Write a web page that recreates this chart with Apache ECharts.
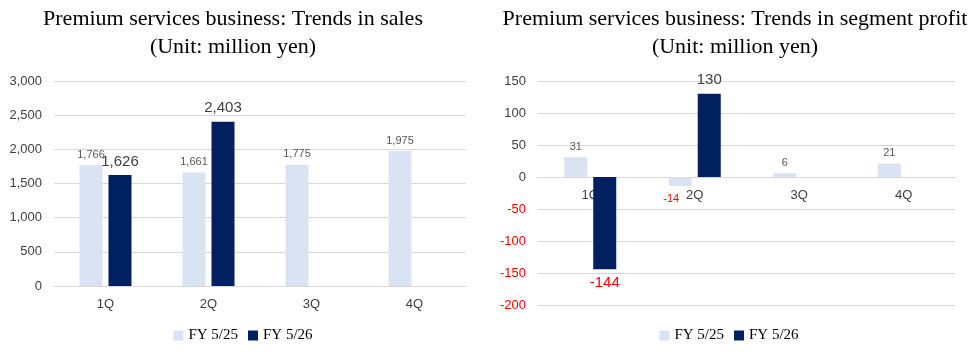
<!DOCTYPE html>
<html>
<head>
<meta charset="utf-8">
<script src="https://cdn.jsdelivr.net/npm/echarts@6/dist/echarts.min.js"></script>
<style>
  html, body { margin: 0; padding: 0; background: #fff; }
  #wrap { width: 972px; height: 352px; position: relative; }
  .chart { position: absolute; top: 0; width: 486px; height: 352px; }
</style>
</head>
<body>
<div id="wrap">
  <div id="sales" class="chart" style="left:0"></div>
  <div id="profit" class="chart" style="left:486px"></div>
</div>
<script>
// 数据
const quarters = ['1Q', '2Q', '3Q', '4Q'];
const seriesNames = ['FY 5/25', 'FY 5/26'];
const salesPrev = [1766, 1661, 1775, 1975];
const salesCurr = [1626, 2403, null, null];
const profitPrev = [31, -14, 6, 21];
const profitCurr = [-144, 130, null, null];

const LIGHT = '#DAE3F3';
const DARK = '#002060';
const TEXT = '#404040';

const fmt = (v) => {
  const s = String(Math.abs(v)).replace(/\B(?=(\d{3})+(?!\d))/g, ',');
  return v < 0 ? '-' + s : s;
};

// 负值放在柱子下方并标红
const toData = (arr, negOffset) =>
  arr.map((v) => {
    if (v == null) return null;
    if (v < 0) {
      return { value: v, label: { position: 'bottom', color: '#FF0000', offset: negOffset || [0, 0] } };
    }
    return v;
  });

function makeOption(cfg) {
  return {
    animation: false,
    title: {
      text: cfg.title,
      left: cfg.titleX,
      top: 0,
      textAlign: 'center',
      textStyle: {
        fontFamily: 'Liberation Serif',
        fontSize: 22,
        fontWeight: 'normal',
        color: '#000',
        lineHeight: 28,
      },
    },
    legend: {
      data: seriesNames,
      left: 'center',
      bottom: 4,
      icon: 'rect',
      itemWidth: 10,
      itemHeight: 10,
      itemGap: 10,
      textStyle: { fontFamily: 'Liberation Serif', fontSize: 15, color: '#000' },
    },
    grid: cfg.grid,
    xAxis: {
      type: 'category',
      data: quarters,
      // v6 不随零轴移动标签，用 offset 把轴移到 0 的位置
      offset: cfg.xOffset,
      axisTick: { show: false },
      axisLine: { onZero: false, lineStyle: { color: '#D9D9D9' } },
      axisLabel: { color: TEXT, fontSize: 13, fontFamily: 'Liberation Sans', margin: cfg.xMargin },
    },
    yAxis: {
      type: 'value',
      min: cfg.min,
      max: cfg.max,
      interval: cfg.interval,
      axisLabel: {
        fontSize: 13,
        fontFamily: 'Liberation Sans',
        margin: 12,
        formatter: fmt,
        color: (v) => (v < 0 ? '#FF0000' : TEXT),
      },
      splitLine: { lineStyle: { color: '#D9D9D9' } },
    },
    series: [
      {
        name: seriesNames[0],
        type: 'bar',
        data: toData(cfg.prev, [-9, 3]),
        barWidth: 23,
        barGap: '26%',
        itemStyle: { color: LIGHT },
        label: {
          show: true,
          position: 'top',
          distance: 5,
          formatter: (p) => fmt(p.value),
          fontSize: 11,
          fontFamily: 'Liberation Sans',
          color: '#595959',
        },
      },
      {
        name: seriesNames[1],
        type: 'bar',
        data: toData(cfg.curr),
        barWidth: 23,
        itemStyle: { color: DARK },
        label: {
          show: true,
          position: 'top',
          distance: 6,
          formatter: (p) => fmt(p.value),
          fontSize: 15,
          fontFamily: 'Liberation Sans',
          color: TEXT,
        },
      },
    ],
  };
}

const salesChart = echarts.init(document.getElementById('sales'));
salesChart.setOption(makeOption({
  title: 'Premium services business: Trends in sales\n(Unit: million yen)',
  titleX: 228,
  grid: { left: 54, right: 20, top: 81, bottom: 66 },
  min: 0, max: 3000, interval: 500,
  xMargin: 12,
  xOffset: 0,
  prev: salesPrev,
  curr: salesCurr,
}));

const profitChart = echarts.init(document.getElementById('profit'));
profitChart.setOption(makeOption({
  title: 'Premium services business: Trends in segment profit\n(Unit: million yen)',
  titleX: 244,
  grid: { left: 52, right: 16, top: 81, bottom: 47 },
  min: -200, max: 150, interval: 50,
  xMargin: 12,
  xOffset: -128,
  prev: profitPrev,
  curr: profitCurr,
}));
</script>
</body>
</html>
